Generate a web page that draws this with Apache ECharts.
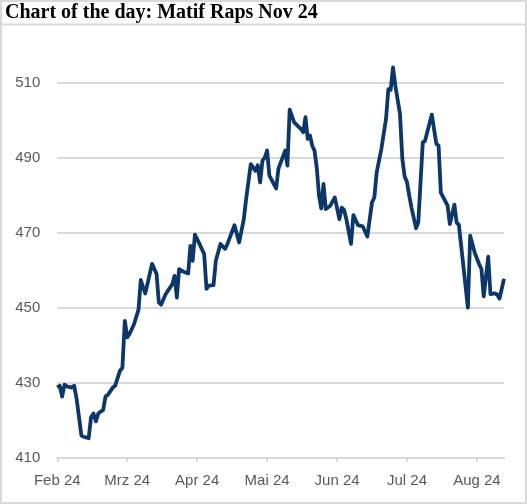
<!DOCTYPE html>
<html><head><meta charset="utf-8">
<script src="https://cdn.jsdelivr.net/npm/echarts@6/dist/echarts.min.js"></script>
<style>html,body{margin:0;padding:0;background:#fff}#c{width:527px;height:504px}</style>
</head><body><div id="c"></div>
<script>
const titleText = 'Chart of the day: Matif Raps Nov 24';
const monthLabels = ['Feb 24','Mrz 24','Apr 24','Mai 24','Jun 24','Jul 24','Aug 24'];
const monthTicks = [0,1,2,3,4,5,6];
const yTicks = [410,430,450,470,490,510];

const febDates = ['02-01','02-02','02-03','02-04','02-05','02-07','02-08','02-09','02-11','02-12','02-14','02-15','02-16','02-17','02-18','02-19','02-20','02-21','02-22','02-24','02-25','02-27','02-28','02-29'];
const febPrices = [428.7,429.2,426.3,429.5,429.0,428.7,429.2,425.7,415.9,415.6,415.2,420.8,421.8,419.7,421.8,422.3,422.7,426.3,426.8,428.7,429.2,433.2,434.0,446.5];
const marDates = ['03-01','03-02','03-04','03-06','03-07','03-08','03-09','03-12','03-14','03-15','03-16','03-18','03-21','03-22','03-23','03-24','03-26','03-28','03-29','03-30','03-31'];
const marPrices = [442.1,443.0,445.6,449.5,457.4,455.5,453.8,461.7,459.0,451.4,450.8,453.6,456.3,458.5,452.7,460.3,459.6,459.1,466.5,462.5,469.5];
const aprDates = ['04-02','04-04','04-05','04-06','04-08','04-09','04-11','04-13','04-14','04-17','04-19','04-21','04-22','04-24','04-26','04-27','04-28','04-29','04-30'];
const aprPrices = [467.0,464.3,455.0,455.9,456.0,462.5,467.0,465.7,467.0,472.0,467.4,473.6,479.0,488.3,486.5,488.0,483.4,489.2,490.0];
const mayDates = ['05-01','05-02','05-05','05-06','05-09','05-10','05-11','05-13','05-16','05-17','05-18','05-19','05-20','05-21','05-22','05-23','05-24','05-25','05-26','05-27','05-29','05-31'];
const mayPrices = [491.9,485.2,481.8,487.0,491.9,487.9,502.8,499.4,497.6,496.8,500.8,495.0,495.9,493.2,491.9,487.4,479.9,476.5,483.0,476.3,477.2,479.4];
const junDates = ['06-02','06-03','06-04','06-05','06-07','06-08','06-10','06-12','06-14','06-16','06-17','06-18','06-20','06-22','06-23','06-24','06-25','06-26','06-28','06-29','06-30'];
const junPrices = [473.6,476.7,476.1,473.6,467.0,474.7,472.0,471.7,469.0,478.1,479.4,486.1,492.3,500.3,508.3,508.1,514.1,509.2,501.7,489.7,485.0];
const julDates = ['07-01','07-02','07-03','07-05','07-06','07-08','07-09','07-12','07-14','07-15','07-16','07-19','07-20','07-22','07-23','07-24','07-28','07-29','07-31'];
const julPrices = [483.5,479.9,476.7,471.2,472.7,494.1,494.5,501.5,493.7,493.2,480.7,477.2,472.3,477.5,472.7,472.1,450.0,469.2,464.7];
const augDates = ['08-02','08-03','08-04','08-06','08-07','08-09','08-10','08-11','08-13'];
const augPrices = [461.6,460.3,453.0,463.6,453.6,453.8,453.5,452.4,457.7];

const allDates = [].concat(febDates, marDates, aprDates, mayDates, junDates, julDates, augDates);
const allPrices = [].concat(febPrices, marPrices, aprPrices, mayPrices, junPrices, julPrices, augPrices);

function monthPos(md) {
  const m = parseInt(md.slice(0,2), 10), d = parseInt(md.slice(3,5), 10);
  const days = new Date(2024, m, 0).getDate();
  return (m - 2) + (d - 1) / days;
}
const seriesData = allDates.map((d, i) => [monthPos(d), allPrices[i]]);

const gridCol = '#d9d9d9';
const chart = echarts.init(document.getElementById('c'));
chart.setOption({
  animation: false,
  backgroundColor: '#fff',
  title: {
    text: titleText, left: 5, top: 3, padding: 0,
    textStyle: {fontFamily: 'Liberation Serif', fontWeight: 'bold', fontSize: 20, color: '#000'}
  },
  graphic: [
    {type: 'rect', shape: {x: 1, y: 1, width: 525, height: 502}, style: {fill: 'none', stroke: gridCol, lineWidth: 2}, silent: true},
    {type: 'line', shape: {x1: 0, y1: 24.5, x2: 527, y2: 24.5}, style: {stroke: gridCol, lineWidth: 2}, silent: true}
  ],
  grid: {left: 57.3, right: 23, top: 45.2, bottom: 46.3, containLabel: false},
  xAxis: {
    type: 'value', min: 0, max: 'dataMax', interval: 1,
    axisLine: {show: true, onZero: false, lineStyle: {color: gridCol, width: 2}},
    axisTick: {show: true, length: 4, customValues: monthTicks, lineStyle: {color: gridCol, width: 2}},
    axisLabel: {customValues: monthTicks, formatter: v => monthLabels[Math.round(v)], color: '#595959', fontFamily: 'Liberation Sans', fontSize: 15, margin: 16},
    splitLine: {show: false}
  },
  yAxis: {
    type: 'value', min: 410, max: 520, interval: 20,
    axisLine: {show: false}, axisTick: {show: false},
    axisLabel: {customValues: yTicks, color: '#595959', fontFamily: 'Liberation Sans', fontSize: 15, margin: 17},
    splitLine: {show: true, showMinLine: false, showMaxLine: false, lineStyle: {color: gridCol, width: 2}}
  },
  series: [{
    type: 'line', data: seriesData, showSymbol: false, symbol: 'none',
    lineStyle: {color: '#0d3768', width: 3.8, join: 'round'}, z: 5
  }]
});
</script></body></html>
